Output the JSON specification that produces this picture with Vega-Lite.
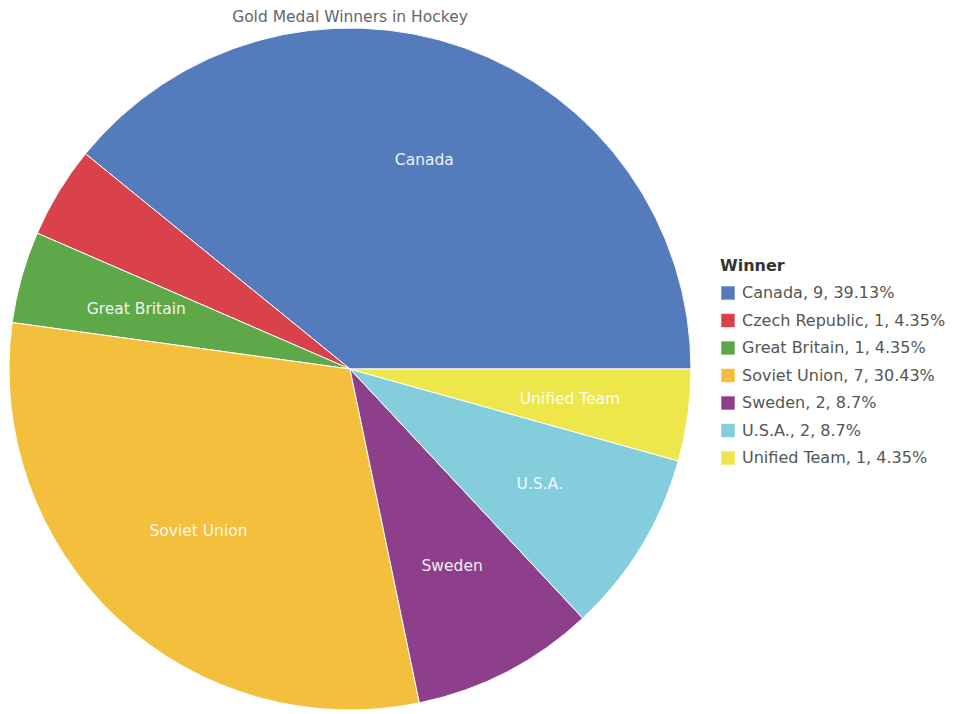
{
  "$schema": "https://vega.github.io/schema/vega-lite/v6.json",
  "autosize": "none",
  "width": 682,
  "height": 682,
  "padding": {"left": 9, "top": 28, "right": 268, "bottom": 4},
  "background": "white",
  "title": {
    "text": "Gold Medal Winners in Hockey",
    "font": "DejaVu Sans",
    "fontSize": 15.5,
    "fontWeight": "normal",
    "color": "#666666",
    "anchor": "middle",
    "offset": 1
  },
  "data": {
    "values": [
      {"name": "Canada", "legend": "Canada, 9, 39.13%", "count": 9, "o": 7},
      {"name": "Czech Republic", "legend": "Czech Republic, 1, 4.35%", "count": 1, "o": 6},
      {"name": "Great Britain", "legend": "Great Britain, 1, 4.35%", "count": 1, "o": 5},
      {"name": "Soviet Union", "legend": "Soviet Union, 7, 30.43%", "count": 7, "o": 4},
      {"name": "Sweden", "legend": "Sweden, 2, 8.7%", "count": 2, "o": 3},
      {"name": "U.S.A.", "legend": "U.S.A., 2, 8.7%", "count": 2, "o": 2},
      {"name": "Unified Team", "legend": "Unified Team, 1, 4.35%", "count": 1, "o": 1}
    ]
  },
  "encoding": {
    "theta": {"field": "count", "type": "quantitative", "stack": true, "scale": {"range": [1.5707963, 7.8539816]}},
    "order": {"field": "o", "type": "quantitative"}
  },
  "layer": [
    {
      "mark": {"type": "arc", "outerRadius": 341, "stroke": "white", "strokeWidth": 1},
      "encoding": {
        "color": {
          "field": "legend",
          "type": "nominal",
          "title": "Winner",
          "scale": {
            "domain": ["Canada, 9, 39.13%", "Czech Republic, 1, 4.35%", "Great Britain, 1, 4.35%", "Soviet Union, 7, 30.43%", "Sweden, 2, 8.7%", "U.S.A., 2, 8.7%", "Unified Team, 1, 4.35%"],
            "range": ["#547bbb", "#d9414b", "#5ea84a", "#f4bf3c", "#8e3f8b", "#84cddd", "#ede74b"]
          },
          "legend": {
            "orient": "none",
            "legendX": 711,
            "legendY": 230,
            "titleFont": "DejaVu Sans",
            "titleFontSize": 16,
            "titleFontWeight": "bold",
            "titleColor": "#333333",
            "titlePadding": 11,
            "labelFont": "DejaVu Sans",
            "labelFontSize": 16,
            "labelColor": "#555555",
            "symbolType": "square",
            "symbolSize": 180,
            "symbolStrokeWidth": 0,
            "symbolOpacity": 1,
            "rowPadding": 11.5,
            "labelOffset": 6,
            "labelLimit": 300
          }
        }
      }
    },
    {
      "mark": {"type": "text", "radius": 222, "font": "DejaVu Sans", "fontSize": 15.5, "color": "white", "opacity": 0.9},
      "encoding": {
        "text": {"condition": {"test": "datum.name === 'Czech Republic'", "value": ""}, "field": "name"}
      }
    }
  ]
}
